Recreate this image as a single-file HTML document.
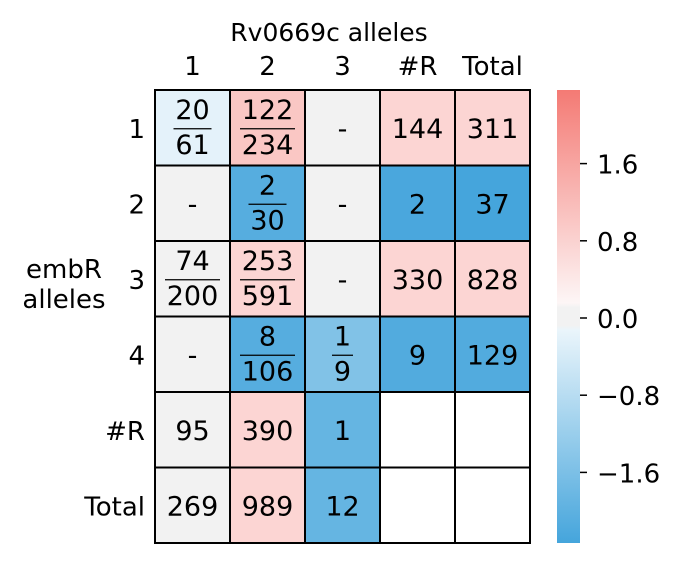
<!DOCTYPE html>
<html><head><meta charset="utf-8"><style>
body{margin:0;background:#fff;}
svg text{font-family:"DejaVu Sans","Liberation Sans",sans-serif;fill:#000;}
</style></head><body>
<svg id="chart" width="686" height="567" xmlns="http://www.w3.org/2000/svg">
<defs>
<linearGradient id="cbg" x1="0" y1="0" x2="0" y2="1">
<stop offset="0" stop-color="#f47a74"/>
<stop offset="0.47" stop-color="#fdf6f6"/>
<stop offset="0.48" stop-color="#f2f2f2"/>
<stop offset="0.52" stop-color="#f2f2f2"/>
<stop offset="0.53" stop-color="#eaf5fb"/>
<stop offset="1" stop-color="#45a5dc"/>
</linearGradient>
</defs>
<g id="cells"></g>
<rect x="557" y="90" width="23" height="453" fill="url(#cbg)"/>
<g id="cbticks"></g>
<text x="329" y="41" font-size="25" text-anchor="middle">Rv0669c alleles</text>
<text x="64" y="278" font-size="26" text-anchor="middle">embR</text>
<text x="64" y="308" font-size="26" text-anchor="middle">alleles</text>
<g id="labels"></g>
</svg>
<script>
const colLabels=["1","2","3","#R","Total"];
const rowLabels=["1","2","3","4","#R","Total"];
const cellText=[
 ["20/61","122/234","-","144","311"],
 ["-","2/30","-","2","37"],
 ["74/200","253/591","-","330","828"],
 ["-","8/106","1/9","9","129"],
 ["95","390","1","",""],
 ["269","989","12","",""]];
const cellValues=[
 [-0.34,1.0,0,0.75,0.75],
 [0,-2.15,0,-2.3,-2.36],
 [0,0.75,0,0.75,0.75],
 [0,-2.15,-1.6,-2.2,-2.2],
 [0,0.75,-1.95,null,null],
 [0,0.75,-1.95,null,null]];
const cbTicks=[1.6,0.8,0.0,-0.8,-1.6];
const cbLabels=["1.6","0.8","0.0","\u22120.8","\u22121.6"];
const NS="http://www.w3.org/2000/svg";
const x0=155,y0=90,cw=75,ch=75.5,vmax=2.36;
const cbY=v=>318-v*96.5;
function color(v){
 if(v===null)return "#ffffff";
 if(Math.abs(v)<0.1)return "#f2f2f2";
 const t=Math.min(Math.abs(v)/vmax,1);
 const e=v>0?[244,122,116]:[69,165,220];
 return "rgb("+e.map(c=>Math.round(255-(255-c)*t)).join(",")+")";
}
function mk(tag,attrs,parent){const el=document.createElementNS(NS,tag);for(const k in attrs)el.setAttribute(k,attrs[k]);parent.appendChild(el);return el;}
const cells=document.getElementById("cells");
cellValues.forEach((row,r)=>row.forEach((v,c)=>{
 const x=x0+c*cw,y=y0+r*ch;
 const rect=mk("rect",{x:x,y:y,width:cw,height:ch,fill:color(v),stroke:"#000","stroke-width":2},cells);
 
 
 const s=cellText[r][c];const cx=x+cw/2,cy=y+ch/2;
 if(s.includes("/")){
  const [n,d]=s.split("/");
  const t1=mk("text",{x:cx,y:cy-9,"font-size":27,"text-anchor":"middle"},cells);t1.textContent=n;
  
  
  const w=Math.max(n.length,d.length)*17+4;
  mk("line",{x1:cx-w/2,x2:cx+w/2,y1:cy+1,y2:cy+1,stroke:"#000","stroke-width":1.3},cells);
  const t2=mk("text",{x:cx,y:cy+26,"font-size":27,"text-anchor":"middle"},cells);t2.textContent=d;
  
  
 }else if(s){
  const t=mk("text",{x:cx,y:cy+10,"font-size":27,"text-anchor":"middle"},cells);t.textContent=s;
  
  
 }
}));
const labels=document.getElementById("labels");
colLabels.forEach((s,i)=>{const t=mk("text",{x:x0+i*cw+cw/2,y:75,"font-size":26,"text-anchor":"middle"},labels);t.textContent=s;
 
 });
rowLabels.forEach((s,i)=>{const t=mk("text",{x:145,y:y0+i*ch+ch/2+10,"font-size":26,"text-anchor":"end"},labels);t.textContent=s;
 
 });
const cbt=document.getElementById("cbticks");
cbTicks.forEach((v,i)=>{const y=cbY(v);
 mk("line",{x1:580,x2:587,y1:y,y2:y,stroke:"#000","stroke-width":1.5},cbt);
 const t=mk("text",{x:597,y:y+10,"font-size":26},cbt);t.textContent=cbLabels[i];
 
 });
</script>
</body></html>
